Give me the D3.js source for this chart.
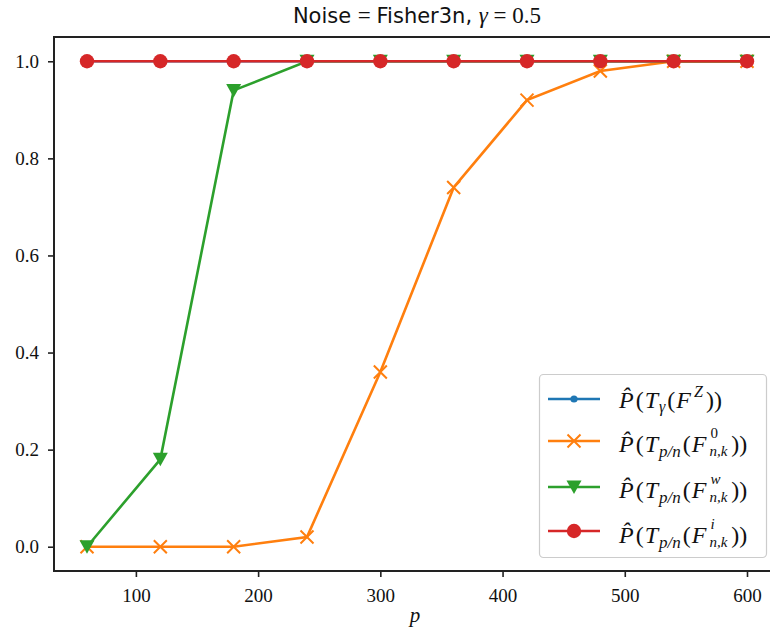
<!DOCTYPE html>
<html><head><meta charset="utf-8">
<script src="https://cdn.jsdelivr.net/npm/d3@7"></script>
<style>body{margin:0;background:#fff}svg{display:block} .sf{font-family:"Liberation Serif",serif} .ss{font-family:"DejaVu Sans",sans-serif}</style>
</head><body>
<script>
const pValues = [60,120,180,240,300,360,420,480,540,600];
const seriesZ = [1,1,1,1,1,1,1,1,1,1];
const series0 = [0,0,0,0.02,0.36,0.74,0.92,0.98,1,1];
const seriesW = [0,0.18,0.94,1,1,1,1,1,1,1];
const seriesI = [1,1,1,1,1,1,1,1,1,1];
const xTicks = [100,200,300,400,500,600];
const yTicks = [0,0.2,0.4,0.6,0.8,1.0];
const colors = ["#1f77b4","#ff7f0e","#2ca02c","#d62728"];
const markers = ["dot","x","tri","circle"];
const legendSup = ["Z","0","w","i"];

const W=770,H=634;
const svg=d3.select("body").append("svg").attr("width",W).attr("height",H);
const L=54,T=37,B=571,R=780;
const x=d3.scaleLinear().domain([33,627]).range([L,R]);
const y=d3.scaleLinear().domain([-0.05,1.05]).range([B,T]);

const plot=svg.append("g");
const allSeries=[seriesZ,series0,seriesW,seriesI];
const line=d3.line().x((d,i)=>x(pValues[i])).y(d=>y(d));

function drawMarker(g,type,cx,cy,c){
  if(type==="dot") g.append("circle").attr("cx",cx).attr("cy",cy).attr("r",3.6).attr("fill",c);
  else if(type==="circle") g.append("circle").attr("cx",cx).attr("cy",cy).attr("r",7.2).attr("fill",c);
  else if(type==="tri") g.append("path").attr("d",`M${cx-7.5},${cy-6.5}L${cx+7.5},${cy-6.5}L${cx},${cy+7}Z`).attr("fill",c);
  else if(type==="x") g.append("path").attr("d",`M${cx-6.5},${cy-6.5}L${cx+6.5},${cy+6.5}M${cx-6.5},${cy+6.5}L${cx+6.5},${cy-6.5}`).attr("stroke",c).attr("stroke-width",2);
}

allSeries.forEach((s,k)=>{
  const g=plot.append("g");
  g.append("path").datum(s).attr("d",line).attr("fill","none").attr("stroke",colors[k]).attr("stroke-width",2.6);
  s.forEach((v,i)=>drawMarker(g,markers[k],x(pValues[i]),y(v),colors[k]));
});

// axes
const xa=svg.append("g").attr("transform",`translate(0,${B})`).call(d3.axisBottom(x).tickValues(xTicks).tickSize(6).tickPadding(8).tickFormat(d3.format("d")));
const ya=svg.append("g").attr("transform",`translate(${L},0)`).call(d3.axisLeft(y).tickValues(yTicks).tickSize(6).tickPadding(9).tickFormat(d3.format(".1f")));
[xa,ya].forEach(a=>{
  a.attr("font-family",null).attr("font-size",null);
  a.select(".domain").remove();
  a.selectAll(".tick line").attr("stroke","#222").attr("stroke-width",1.6);
  a.selectAll(".tick text").attr("class","sf").attr("fill","#111").style("font-size","19px");
});
xa.selectAll(".tick text").attr("dy","0.9em");
svg.append("rect").attr("x",L).attr("y",T).attr("width",R-L).attr("height",B-T).attr("fill","none").attr("stroke","#222").attr("stroke-width",2);

// title
const title=svg.append("text").attr("x",(L+R)/2).attr("y",23).attr("text-anchor","middle").style("font-size","21px").attr("fill","#111");
title.append("tspan").attr("class","ss").text("Noise ");
title.append("tspan").attr("class","sf").style("font-size","23px").text("= ");
title.append("tspan").attr("class","ss").text("Fisher3n, ");
title.append("tspan").attr("class","sf").style("font-size","23px").style("font-style","italic").text("γ");
title.append("tspan").attr("class","sf").style("font-size","23px").text(" = 0.5");

// x label
svg.append("text").attr("class","sf").attr("x",(L+R)/2-2).attr("y",622).attr("text-anchor","middle").style("font-style","italic").style("font-size","21px").attr("fill","#111").text("p");

// legend
const lg=svg.append("g");
lg.append("rect").attr("x",539.5).attr("y",374.5).attr("width",227).attr("height",183).attr("rx",4)
  .attr("fill","white").attr("fill-opacity",0.8).attr("stroke","#cccccc").attr("stroke-width",1.2);
const legendY=[399,441,487,531];
const baseOff=[9,11,11,12];
const fs=24;
function piece(g,cx,cy,txt,size,italic){
  const t=g.append("text").attr("class","sf").attr("x",cx).attr("y",cy).style("font-size",size+"px")
    .style("font-style",italic?"italic":"normal").attr("fill","#111").text(txt);
  return t.node().getComputedTextLength();
}
legendSup.forEach((sup,k)=>{
  const cy=legendY[k];
  const g=lg.append("g");
  g.append("line").attr("x1",548).attr("x2",600).attr("y1",cy).attr("y2",cy).attr("stroke",colors[k]).attr("stroke-width",2.6);
  drawMarker(g,markers[k],574,cy,colors[k]);
  const by=cy+baseOff[k];
  let cx=619;
  cx+=piece(g,cx,by,"P\u0302",fs,true)+2;
  cx+=piece(g,cx,by,"(",fs,false)+1;
  cx+=piece(g,cx,by,"T",fs,true)+1;
  if(k===0){
    cx+=piece(g,cx,by+4,"γ",16,true)+2;
  } else {
    cx+=piece(g,cx,by+5,"p/n",17,true)+2;
  }
  cx+=piece(g,cx,by,"(",fs,false)+1;
  cx+=piece(g,cx,by,"F",fs,true)+3;
  if(k===0){
    cx+=piece(g,cx,by-11,sup,16,true)+3;
  } else {
    const w1=piece(g,cx+1,by-14,sup,15,sup!=="0");
    const w2=piece(g,cx,by+4,"n,k",15,true);
    cx+=Math.max(w1+1,w2)+4;
  }
  piece(g,cx,by,"))",fs,false);
});
</script>
</body></html>
